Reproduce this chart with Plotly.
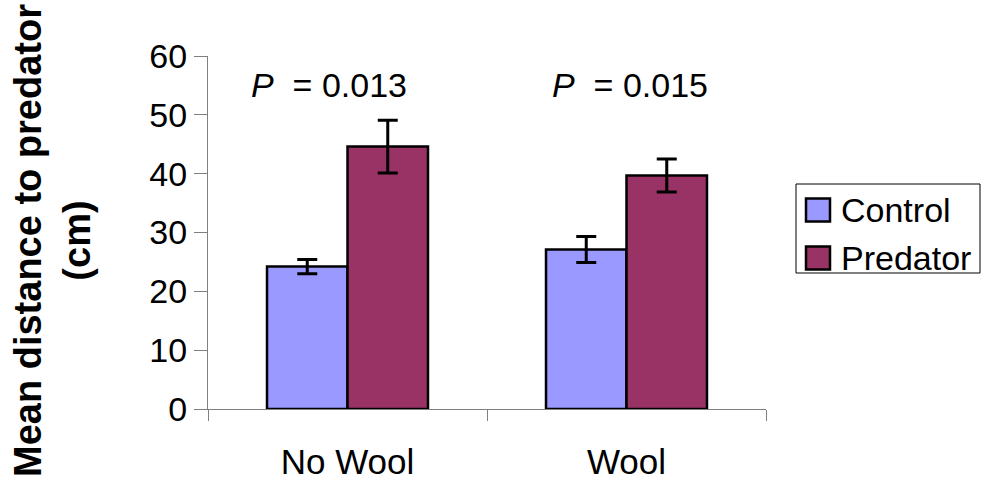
import plotly.graph_objects as go

# ---- data ----
categories = ["No Wool", "Wool"]
series_names = ["Control", "Predator"]
control_means = [24.2, 27.1]
control_err = [1.2, 2.2]
predator_means = [44.6, 39.7]
predator_err = [4.5, 2.8]
p_labels = ["<i>P</i>  = 0.013", "<i>P</i>  = 0.015"]
p_xpos = [-0.066, 1.013]
p_ypos = [55, 55]
colors = ["#9999FF", "#993366"]

FONT = "Arial, Liberation Sans, sans-serif"
W, H = 982, 484
L, R, T, B = 208, 216, 56, 75
PW, PH = W - L - R, H - T - B

def px2x(px):
    return (px - L) / PW

def px2y(py):
    return (H - B - py) / PH

fig = go.Figure()
for name, means, errs, col in [
    (series_names[0], control_means, control_err, colors[0]),
    (series_names[1], predator_means, predator_err, colors[1]),
]:
    fig.add_trace(go.Bar(
        name=name, x=categories, y=means,
        marker=dict(color=col, line=dict(color="black", width=2.5)),
        error_y=dict(type="data", array=errs, color="black", thickness=3, width=10),
        showlegend=False,
    ))

for txt, xv, yv in zip(p_labels, p_xpos, p_ypos):
    fig.add_annotation(x=xv, y=yv, xref="x", yref="y", text=txt, showarrow=False,
                       font=dict(family=FONT, size=34, color="black"),
                       xanchor="center", yanchor="middle")

# y-axis title
fig.add_annotation(x=px2x(52), y=px2y(241), xref="paper", yref="paper",
                   text="<b>Mean distance to predator<br>(cm)</b>", textangle=-90,
                   showarrow=False, font=dict(family=FONT, size=38, color="black"),
                   xanchor="center", yanchor="middle")

# legend (manual, to match large swatches)
fig.add_shape(type="rect", xref="paper", yref="paper",
              x0=px2x(796), x1=px2x(980), y0=px2y(273), y1=px2y(184),
              line=dict(color="black", width=1), fillcolor="white")
for i, (name, col) in enumerate(zip(series_names, colors)):
    cy = 210 + i * 48
    fig.add_shape(type="rect", xref="paper", yref="paper",
                  x0=px2x(806), x1=px2x(830), y0=px2y(cy + 11.5), y1=px2y(cy - 11.5),
                  line=dict(color="black", width=2.5), fillcolor=col)
    fig.add_annotation(x=px2x(839), y=px2y(cy), xref="paper", yref="paper",
                       text=name, showarrow=False, xanchor="left", yanchor="middle",
                       font=dict(family=FONT, size=34, color="black"))

fig.update_layout(
    width=W, height=H,
    margin=dict(l=L, r=R, t=T, b=B, pad=0, autoexpand=False),
    paper_bgcolor="white", plot_bgcolor="white",
    barmode="group", bargap=0.423, bargroupgap=0,
    font=dict(family=FONT, color="black"),
)
fig.update_xaxes(
    showline=True, linecolor="#808080", linewidth=1,
    ticks="outside", tickson="boundaries", ticklen=11, tickcolor="#808080",
    tickfont=dict(family=FONT, size=35, color="black"),
    ticklabelstandoff=22, showgrid=False, zeroline=False, automargin=False,
)
fig.update_yaxes(
    range=[0, 60], dtick=10, showline=True, linecolor="#808080", linewidth=1,
    ticks="outside", ticklen=13, tickcolor="#808080",
    tickfont=dict(family=FONT, size=34, color="black"),
    showgrid=False, zeroline=False, automargin=False,
)

fig.write_html("out.html")
